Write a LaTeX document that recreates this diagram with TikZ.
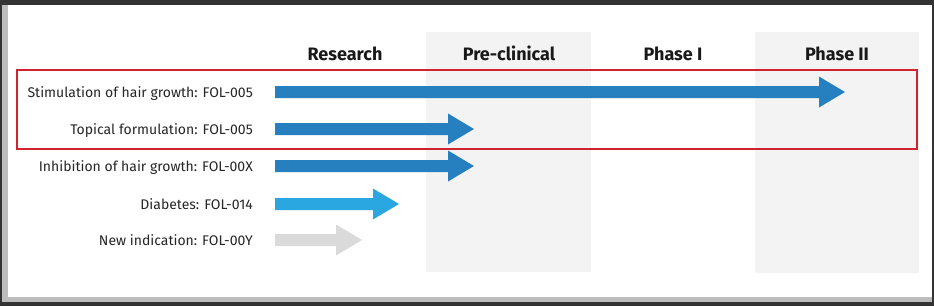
\documentclass[tikz,border=0pt]{standalone}
\usepackage{fontspec}
\setmainfont{Fira Sans}
\definecolor{dblue}{HTML}{2680BF}
\definecolor{lblue}{HTML}{2AA7E1}
\definecolor{lgrey}{HTML}{DADADA}
\definecolor{colshade}{HTML}{F3F3F3}
\definecolor{redbox}{HTML}{D0222F}
\definecolor{framedark}{HTML}{333333}
\definecolor{framegrey}{HTML}{BDBDBD}
\tikzset{
  lbl/.style={anchor=base east, inner sep=0pt, font=\fontsize{14}{16}\selectfont, text=black!85},
  hdr/.style={anchor=base, inner sep=0pt, font=\fontsize{18}{21}\selectfont\bfseries, text=black!90},
}
% arrow polygon: #1 start coordinate, #2 tip x, #3 colour
\newcommand\pipearrow[3]{%
  \fill[#3] let \p1=(#1) in
    (\x1,\y1-6) -- (#2-26,\y1-6) -- (#2-26,\y1-15.5) -- (#2,\y1)
    -- (#2-26,\y1+15.5) -- (#2-26,\y1+6) -- (\x1,\y1+6) -- cycle;}
\usetikzlibrary{calc}
\begin{document}
\begin{tikzpicture}[x=1pt,y=-1pt]
\useasboundingbox (0,0) rectangle (934,306);
% frame
\fill[framedark] (0,0) rectangle (934,306);
\fill[framegrey] (2,5) rectangle (932,302);
\fill[white] (8,5) rectangle (932,297);
% shaded columns
\fill[colshade] (426,32) rectangle (591,272);
\fill[colshade] (755,32) rectangle (919,273);
% headers
\node[hdr] (hres) at (345,60) {Research};
\node[hdr] (hpre) at (509,60) {Pre-clinical};
\node[hdr] (hp1) at (673,60) {Phase I};
\node[hdr] (hp2) at (837,60) {Phase II};
% labels
\node[lbl] (l1) at (253,97) {Stimulation of hair growth: FOL-005};
\node[lbl] (l2) at (253,134) {Topical formulation: FOL-005};
\node[lbl] (l3) at (253,171) {Inhibition of hair growth: FOL-00X};
\node[lbl] (l4) at (253,209) {Diabetes: FOL-014};
\node[lbl] (l5) at (253,245) {New indication: FOL-00Y};
% arrow starts
\coordinate (a1) at (275,92);
\coordinate (a2) at (275,129);
\coordinate (a3) at (275,166);
\coordinate (a4) at (275,204);
\coordinate (a5) at (275,240);
\pipearrow{a1}{845}{dblue}
\pipearrow{a2}{474}{dblue}
\pipearrow{a3}{474}{dblue}
\pipearrow{a4}{399}{lblue}
\pipearrow{a5}{362}{lgrey}
% red box
\draw[redbox, line width=2pt] (17,70) rectangle (917,149);
\end{tikzpicture}
\end{document}
